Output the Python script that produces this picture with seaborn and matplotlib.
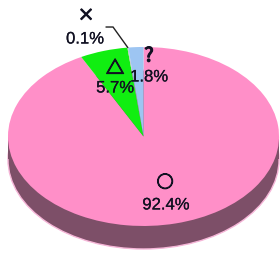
import numpy as np
import matplotlib
matplotlib.use("Agg")
import matplotlib.pyplot as plt
import matplotlib.patheffects as pe
import seaborn as sns
from matplotlib.patches import Ellipse, Rectangle

# answer shares (%)
symbols = ["○", "△", "×", "?"]
shares = [92.4, 5.7, 0.1, 1.8]
pct_labels = ["92.4%", "5.7%", "0.1%", "1.8%"]

colors = ["#ff8fc8", "#11ee11", "#c0c0c0", "#9dc5f2"]
side_color = "#7d4f68"

sns.set_style("white")
plt.rcParams["font.family"] = ["Liberation Sans", "Noto Sans CJK JP", "DejaVu Sans"]

fig = plt.figure(figsize=(2.8, 2.55), dpi=100)
ax = fig.add_axes([0, 0, 1, 1])

# 3D side of the tilted pie
depth = 0.257
ax.add_patch(Ellipse((0, -depth), 2, 2, facecolor=side_color,
                     edgecolor="#f5b5d7", linewidth=1, zorder=0))
ax.add_patch(Rectangle((-1, -depth), 2, depth, facecolor=side_color,
                       edgecolor="none", zorder=0))

wedges, _ = ax.pie(shares, colors=colors, startangle=90, counterclock=False,
                   radius=1, wedgeprops=dict(linewidth=0))

# squash the circle into an ellipse
ax.set_aspect("auto")
ax.set_xlim(-1.059, 1.007)
ax.set_ylim(-1.313, 1.536)
ax.axis("off")

# label layout (data units of the squashed pie)
sym_pos = [(0.159, -0.520), (-0.210, 0.757), (-0.424, 1.346), (0.040, 0.900)]
pct_pos = [(0.166, -0.765), (-0.210, 0.542), (-0.432, 1.089), (0.041, 0.665)]
sym_size = [12, 13, 12, 14]
ink = "#111122"

for sym, pct, sp, pp, fs in zip(symbols, pct_labels, sym_pos, pct_pos, sym_size):
    ax.text(*sp, sym, ha="center", va="center", fontsize=fs,
            family=["Noto Sans CJK JP", "DejaVu Sans"], color=ink,
            path_effects=[pe.withStroke(linewidth=0.9, foreground=ink)])
    ax.text(*pp, pct, ha="center", va="center", fontsize=12, color=ink,
            path_effects=[pe.withStroke(linewidth=0.15, foreground=ink)])

# leader line for the tiny slice
w = wedges[2]
mid = np.deg2rad((w.theta1 + w.theta2) / 2)
ax.plot([-0.277, -0.225, np.cos(mid)], [1.223, 1.223, np.sin(mid)],
        color="#222222", linewidth=1, solid_joinstyle="miter")

fig.savefig("out.png", dpi=100)
